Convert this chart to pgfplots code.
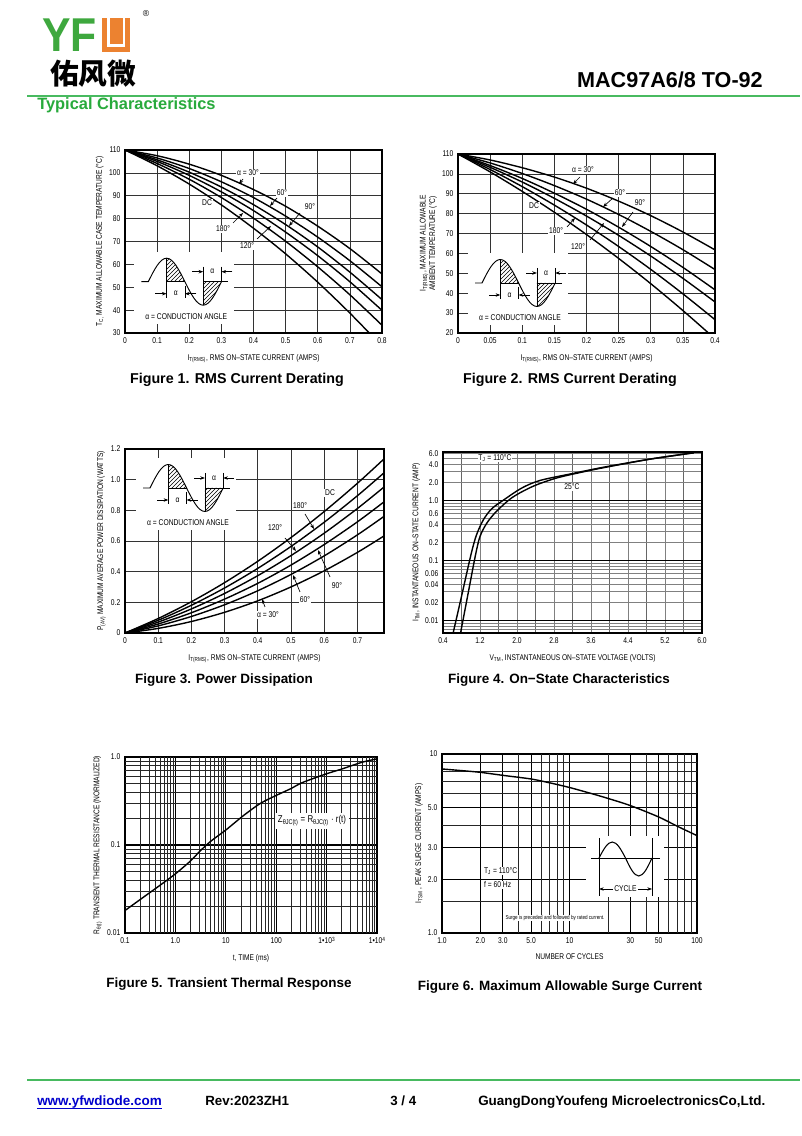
\documentclass[border=0pt]{standalone}
\usepackage{pgfplots}
\pgfplotsset{compat=1.18}
\usepackage{fontspec}
\setmainfont{Liberation Sans}
\newfontfamily\cond[FakeStretch=0.8]{Liberation Sans}
\newfontfamily\logof[FakeStretch=0.9]{Liberation Sans}
\newfontfamily\cjk{Noto Sans CJK SC}
\usetikzlibrary{patterns,arrows.meta}
\definecolor{yfgreen}{RGB}{62,168,62}
\definecolor{yforange}{RGB}{236,130,48}
\definecolor{linegreen}{RGB}{72,186,96}
\definecolor{capgreen}{RGB}{40,170,60}
\newcommand{\tk}{\cond\fontsize{6.3}{7}\selectfont}
\newcommand{\lb}{\cond\fontsize{6.2}{7.2}\selectfont}
\newcommand{\sups}[1]{\raisebox{0.45ex}{\fontsize{4.5}{5}\selectfont #1}}
\pgfplotsset{
  ds/.style={scale only axis, anchor=south west,
    axis line style={line width=1pt},
    tick label style={font=\tk},
    label style={font=\lb},
    /pgf/number format/assume math mode=true,
    major tick length=0pt, minor tick length=0pt,
    grid=major, major grid style={black!80, line width=0.55pt},
    xlabel style={yshift=-1pt}, ylabel style={yshift=-3pt},
  },
  cv/.style={black, line width=1.05pt, smooth, no markers},
}
\tikzset{lab/.style={font=\tk, fill=white, inner sep=0.6pt},
  ar/.style={-{Stealth[length=3.5pt,width=2.6pt]}, line width=0.5pt},
  px/.style={y=-0.75pt, yshift=852pt}}
\newcommand{\condinset}[2]{%
\begin{scope}[shift={(#1,#2)}]
 \fill[white] (-14,-30) rectangle (86,42);
 \fill[pattern=north east lines] (18.3,0) -- (18.3,-23.5) cos (36.6,0) -- cycle;
 \fill[pattern=north east lines] (54.9,0) -- (54.9,23.5) cos (73.2,0) -- cycle;
 \draw[line width=0.7pt] (-7,0) -- (0,0) sin (18.3,-23.5) cos (36.6,0) sin (54.9,23.5) cos (73.2,0);
 \draw[line width=0.5pt] (18.3,-23.5) -- (18.3,16) (18.3,0) -- (36.6,0);
 \draw[line width=0.5pt] (54.9,-15) -- (54.9,23.5) (54.9,0) -- (80,0) (73.2,-15) -- (73.2,0);
 \draw[ar] (44,-10) -- (54.9,-10); \draw[ar] (84,-10) -- (73.2,-10);
 \node[font=\tk] at (64,-10) {α};
 \draw[ar] (7,12) -- (18.3,12); \draw[ar] (48,12) -- (36.6,12);
 \draw[line width=0.5pt] (36.6,4) -- (36.6,16);
 \node[font=\tk] at (27.5,12) {α};
 \node[font=\tk] at (38,35) {α = CONDUCTION ANGLE};
\end{scope}}
\begin{document}
\begin{tikzpicture}[x=0.75pt,y=0.75pt]
\begin{scope}[px]
\fill[white] (0,0) rectangle (800,1136);
% ---------------- header
\node[anchor=base west, inner sep=0, text=yfgreen, font=\logof\bfseries\fontsize{35.6}{36}\selectfont] at (42,52) {YF};
\fill[yforange] (102,18) rectangle (130,52);
\fill[white] (107,18) rectangle (109.5,47);
\fill[white] (122.5,18) rectangle (125,47);
\fill[white] (107,44.5) rectangle (125,47);
\node[font=\fontsize{6.5}{7}\selectfont, inner sep=0] at (146,14) {®};
\node[anchor=base west, inner sep=0, font=\cjk\bfseries\fontsize{21.5}{22}\selectfont] at (50,85) {佑风微};
\node[anchor=base east, inner sep=0, font=\bfseries\fontsize{16.2}{17}\selectfont] at (763,88) {MAC97A6/8 TO-92};
\draw[linegreen, line width=1.5pt] (27,96) -- (800,96);
\node[anchor=base west, inner sep=0, text=capgreen, font=\bfseries\fontsize{12.3}{13}\selectfont] at (37,110) {Typical Characteristics};
% ---------------- footer
\draw[linegreen, line width=2.2pt] (27,1080) -- (800,1080);
\node[anchor=base west, inner sep=0, text=blue!80!black, font=\bfseries\fontsize{10.1}{11}\selectfont] at (37,1105) {www.yfwdiode.com};
\draw[blue!80!black, line width=0.6pt] (37,1108) -- (162,1108);
\node[anchor=base west, inner sep=0, font=\bfseries\fontsize{10}{11}\selectfont] at (205,1105) {Rev:2023ZH1};
\node[anchor=base west, inner sep=0, font=\bfseries\fontsize{10}{11}\selectfont] at (390,1105) {3 / 4};
\node[anchor=base west, inner sep=0, font=\bfseries\fontsize{10.1}{11}\selectfont] at (478,1105) {GuangDongYoufeng MicroelectronicsCo,Ltd.};
% ---------------- captions
\begin{scope}[every node/.style={anchor=base, inner sep=0, font=\bfseries\fontsize{10.7}{12}\selectfont}]
\node at (237,384) {Figure 1. RMS Current Derating};
\node at (570,384) {Figure 2. RMS Current Derating};
\end{scope}
\begin{scope}[every node/.style={anchor=base, inner sep=0, font=\bfseries\fontsize{10.1}{12}\selectfont}]
\node at (224,684) {Figure 3. Power Dissipation};
\node at (559,684) {Figure 4. On−State Characteristics};
\node at (229,988) {Figure 5. Transient Thermal Response};
\node at (560,991) {Figure 6. Maximum Allowable Surge Current};
\end{scope}
\end{scope}
% ================= Figure 1
\begin{axis}[ds, at={(93.75pt,602.25pt)}, width=192.75pt, height=137.25pt,
  xmin=0, xmax=0.8, ymin=30, ymax=110,
  xtick={0,0.1,0.2,0.3,0.4,0.5,0.6,0.7,0.8},
  xticklabels={0,0.1,0.2,0.3,0.4,0.5,0.6,0.7,0.8},
  ytick={30,40,50,60,70,80,90,100,110},
  yticklabels={30,40,50,60,70,80,90,100,110},
  xlabel={I\textsubscript{T(RMS)}, RMS ON–STATE CURRENT (AMPS)},
  ylabel={T\textsubscript{C,} MAXIMUM ALLOWABLE CASE TEMPERATURE (°C)}]
\addplot[cv] coordinates {(0,110)(0.1,107.5)(0.2,103.8)(0.3,98.9)(0.4,92.7)(0.5,85.4)(0.6,76.7)(0.7,66.9)(0.8,55.8)};
\addplot[cv] coordinates {(0,110)(0.1,106.5)(0.2,101.9)(0.3,96.1)(0.4,89.2)(0.5,81.1)(0.6,71.9)(0.7,61.6)(0.8,50.2)};
\addplot[cv] coordinates {(0,110)(0.1,105.7)(0.2,100.3)(0.3,93.8)(0.4,86.1)(0.5,77.4)(0.6,67.6)(0.7,56.6)(0.8,44.6)};
\addplot[cv] coordinates {(0,110)(0.1,105.0)(0.2,98.9)(0.3,91.7)(0.4,83.5)(0.5,74.1)(0.6,63.8)(0.7,52.4)(0.8,39.9)};
\addplot[cv] coordinates {(0,110)(0.1,104.1)(0.2,97.2)(0.3,89.2)(0.4,80.2)(0.5,70.1)(0.6,58.9)(0.7,46.7)(0.8,33.4)};
\addplot[cv] coordinates {(0,110)(0.1,103.1)(0.2,95.1)(0.3,86.0)(0.4,75.8)(0.5,64.6)(0.6,52.2)(0.7,38.7)(0.8,24.2)};
\end{axis}
\begin{scope}[px]
\condinset{148.3}{281.7}
\node[lab] at (248,173) {α = 30°}; \draw[ar] (243,179) -- (239,184);
\node[lab] at (282,193) {60°}; \draw[ar] (277,198) -- (270,206);
\node[lab] at (310,207) {90°}; \draw[ar] (300,213) -- (289,226);
\node[lab] at (207,203) {DC};
\node[lab] at (223,229) {180°}; \draw[ar] (233,223) -- (243,213);
\node[lab] at (247,246) {120°}; \draw[ar] (257,239) -- (271,226);
\end{scope}
% ================= Figure 2
\begin{axis}[ds, at={(343.5pt,602.25pt)}, width=192.75pt, height=134.25pt,
  xmin=0, xmax=0.4, ymin=20, ymax=110,
  xtick={0,0.05,0.1,0.15,0.2,0.25,0.3,0.35,0.4},
  xticklabels={0,0.05,0.1,0.15,0.2,0.25,0.3,0.35,0.4},
  ytick={20,30,40,50,60,70,80,90,100,110},
  yticklabels={20,30,40,50,60,70,80,90,100,110},
  xlabel={I\textsubscript{T(RMS)}, RMS ON–STATE CURRENT (AMPS)},
  ylabel={I\textsubscript{T(RMS)}, MAXIMUM ALLOWABLE\\AMBIENT TEMPERATURE (°C)},
  ylabel style={align=center}]
\addplot[cv] coordinates {(0,110)(0.05,107.0)(0.1,103.1)(0.15,98.4)(0.2,92.8)(0.25,86.3)(0.3,79.0)(0.35,70.8)(0.4,61.8)};
\addplot[cv] coordinates {(0,110)(0.05,105.5)(0.1,100.2)(0.15,94.1)(0.2,87.3)(0.25,79.6)(0.3,71.1)(0.35,61.9)(0.4,51.9)};
\addplot[cv] coordinates {(0,110)(0.05,104.2)(0.1,97.7)(0.15,90.3)(0.2,82.2)(0.25,73.2)(0.3,63.5)(0.35,53.0)(0.4,41.7)};
\addplot[cv] coordinates {(0,110)(0.05,103.3)(0.1,95.9)(0.15,87.7)(0.2,78.8)(0.25,69.1)(0.3,58.7)(0.35,47.5)(0.4,35.6)};
\addplot[cv] coordinates {(0,110)(0.05,102.2)(0.1,93.6)(0.15,84.3)(0.2,74.3)(0.25,63.5)(0.3,52.0)(0.35,39.7)(0.4,26.7)};
\addplot[cv] coordinates {(0,110)(0.05,101.0)(0.1,91.2)(0.15,80.7)(0.2,69.5)(0.25,57.5)(0.3,44.8)(0.35,31.3)(0.4,17.1)};
\end{axis}
\begin{scope}[px]
\condinset{482}{283}
\node[lab] at (583,170) {α = 30°}; \draw[ar] (580,177) -- (573,184);
\node[lab] at (620,193) {60°}; \draw[ar] (613,198) -- (603,207);
\node[lab] at (640,203) {90°}; \draw[ar] (633,212) -- (622,227);
\node[lab] at (534,206) {DC};
\node[lab] at (556,231) {180°}; \draw[ar] (567,227) -- (575,218);
\node[lab] at (578,247) {120°}; \draw[ar] (590,240) -- (604,223);
\end{scope}
% ================= Figure 3
\begin{axis}[ds, at={(93.75pt,377.25pt)}, width=194.25pt, height=138pt,
  xmin=0, xmax=0.78, ymin=0, ymax=1.2,
  xtick={0,0.1,0.2,0.3,0.4,0.5,0.6,0.7},
  xticklabels={0,0.1,0.2,0.3,0.4,0.5,0.6,0.7},
  ytick={0,0.2,0.4,0.6,0.8,1.0,1.2},
  yticklabels={0,0.2,0.4,0.6,0.8,1.0,1.2},
  xlabel={I\textsubscript{T(RMS)}, RMS ON–STATE CURRENT (AMPS)},
  ylabel={P\textsubscript{(AV)} MAXIMUM AVERAGE POWER DISSIPATION (WATTS)}]
\addplot[cv] coordinates {(0,0)(0.1,0.0945)(0.2,0.204)(0.3,0.3285)(0.4,0.468)(0.5,0.6225)(0.6,0.792)(0.7,0.9765)(0.783,1.141)};
\addplot[cv] coordinates {(0,0)(0.1,0.0829)(0.2,0.1808)(0.3,0.2937)(0.4,0.4216)(0.5,0.5645)(0.6,0.7224)(0.7,0.8953)(0.783,1.050)};
\addplot[cv] coordinates {(0,0)(0.1,0.071)(0.2,0.157)(0.3,0.258)(0.4,0.374)(0.5,0.505)(0.6,0.651)(0.7,0.812)(0.783,0.957)};
\addplot[cv] coordinates {(0,0)(0.1,0.0586)(0.2,0.132)(0.3,0.221)(0.4,0.324)(0.5,0.443)(0.6,0.577)(0.7,0.725)(0.783,0.860)};
\addplot[cv] coordinates {(0,0)(0.1,0.0464)(0.2,0.1078)(0.3,0.1842)(0.4,0.2756)(0.5,0.382)(0.6,0.503)(0.7,0.640)(0.783,0.765)};
\addplot[cv] coordinates {(0,0)(0.1,0.030)(0.2,0.075)(0.3,0.135)(0.4,0.210)(0.5,0.3005)(0.6,0.4056)(0.7,0.5257)(0.783,0.637)};
\end{axis}
\begin{scope}[px]
\condinset{150}{488}
\node[lab] at (330,493) {DC};
\node[lab] at (300,506) {180°}; \draw[ar] (305,514) -- (314,529);
\node[lab] at (275,528) {120°}; \draw[ar] (285,538) -- (296,551);
\node[lab] at (337,586) {90°}; \draw[ar] (330,577) -- (318,550);
\node[lab] at (305,600) {60°}; \draw[ar] (300,592) -- (293,575);
\node[lab] at (268,615) {α = 30°}; \draw[ar] (265,607) -- (262,599);
\end{scope}
% ================= Figure 4
\begin{axis}[ds, at={(332.25pt,377.25pt)}, width=194.25pt, height=135.75pt,
  xmin=0.4, xmax=6.0, ymode=log, ymin=0.00615, ymax=6.4,
  xtick={0.4,1.2,2.0,2.8,3.6,4.4,5.2,6.0},
  xticklabels={0.4,1.2,2.0,2.8,3.6,4.4,5.2,6.0},
  minor xtick={0.8,1.6,2.4,3.2,4.0,4.8,5.6},
  ytick={0.007,0.008,0.009,0.01,0.02,0.03,0.04,0.05,0.06,0.07,0.08,0.09,0.1,0.2,0.3,0.4,0.5,0.6,0.7,0.8,0.9,1,2,3,4,5,6},
  yticklabels={,,,0.01,0.02,,0.04,,0.06,,,,0.1,0.2,,0.4,,0.6,,,,1.0,2.0,,4.0,,6.0},
  grid=both, major grid style={black!50, line width=0.45pt},
  minor grid style={black!60, line width=0.5pt},
  extra y ticks={0.01,0.1,1}, extra y tick labels={},
  extra y tick style={grid=major, major grid style={black, line width=0.8pt}},
  xlabel={V\textsubscript{TM}, INSTANTANEOUS ON–STATE VOLTAGE (VOLTS)},
  ylabel={I\textsubscript{TM}, INSTANTANEOUS ON–STATE CURRENT (AMP)}]
\addplot[cv] coordinates {(0.62,0.0062)(0.8,0.025)(1.0,0.12)(1.12,0.26)(1.27,0.47)(1.45,0.72)(1.7,1.0)(2.1,1.6)(2.5,2.15)(3.2,2.8)(3.9,3.6)(4.9,4.9)(5.82,6.2)};
\addplot[cv] coordinates {(0.78,0.0062)(0.95,0.03)(1.1,0.12)(1.2,0.25)(1.35,0.42)(1.56,0.66)(1.9,1.12)(2.35,1.72)(2.85,2.35)(3.4,2.95)(3.95,3.6)(4.9,4.9)(5.82,6.2)};
\end{axis}
\begin{scope}[px]
\node[lab] at (495,458) {T\textsubscript{J} = 110°C};
\node[lab] at (572,487) {25°C};
\end{scope}
% ================= Figure 5
\begin{axis}[ds, at={(93.75pt,152.25pt)}, width=189pt, height=132pt,
  xmode=log, ymode=log, xmin=0.1, xmax=10000, ymin=0.01, ymax=1,
  xtick={0.1,1,10,100,1000,10000},
  xticklabels={0.1,1.0,10,100,1•10\sups{3},1•10\sups{4}},
  ytick={0.01,0.1,1}, yticklabels={0.01,0.1,1.0},
  major grid style={black, line width=0.9pt},
  extra x ticks={0.2,0.3,0.4,0.5,0.6,0.7,0.8,0.9,2,3,4,5,6,7,8,9,20,30,40,50,60,70,80,90,200,300,400,500,600,700,800,900,2000,3000,4000,5000,6000,7000,8000,9000},
  extra x tick labels={},
  extra x tick style={grid=major, major grid style={black!85, line width=0.45pt}},
  extra y ticks={0.02,0.03,0.04,0.05,0.06,0.07,0.08,0.09,0.2,0.3,0.4,0.5,0.6,0.7,0.8,0.9},
  extra y tick labels={},
  extra y tick style={grid=major, major grid style={black!85, line width=0.45pt}},
  xlabel={t, TIME (ms)},
  ylabel={R\textsubscript{θ(t)} TRANSIENT THERMAL RESISTANCE (NORMALIZED)}]
\addplot[cv] coordinates {(0.1,0.018)(0.2,0.024)(0.5,0.035)(1,0.047)(2,0.066)(3,0.084)(5,0.11)(10,0.148)(20,0.205)(30,0.245)(50,0.30)(100,0.366)(200,0.44)(300,0.50)(500,0.56)(1000,0.645)(2000,0.73)(3000,0.79)(5000,0.87)(10000,0.955)};
\end{axis}
\begin{scope}[px]
\node[font=\cond\fontsize{7.4}{8}\selectfont, fill=white, inner sep=2pt] at (312,821) {Z\textsubscript{θJC(t)} = R\textsubscript{θJC(t)} · r(t)};
\end{scope}
% ================= Figure 6
\begin{axis}[ds, at={(331.5pt,152.25pt)}, width=191.25pt, height=134.25pt,
  xmode=log, ymode=log, xmin=1, xmax=100, ymin=1, ymax=10,
  xtick={1,2,3,5,10,30,50,100},
  xticklabels={1.0,2.0,3.0,5.0,10,30,50,100},
  ytick={1,2,3,5,10}, yticklabels={1.0,2.0,3.0,5.0,10},
  major grid style={black, line width=0.6pt},
  extra x ticks={4,6,7,8,9,20,40,60,70,80,90}, extra x tick labels={},
  extra x tick style={grid=major, major grid style={black!85, line width=0.45pt}},
  extra y ticks={1.5,4,6,7,8,9}, extra y tick labels={},
  extra y tick style={grid=major, major grid style={black!85, line width=0.45pt}},
  xlabel={NUMBER OF CYCLES},
  ylabel={I\textsubscript{TSM} , PEAK SURGE CURRENT (AMPS)}]
\addplot[cv] coordinates {(1,8.25)(1.5,8.05)(2,7.9)(3,7.6)(5,7.25)(7,6.9)(10,6.5)(15,6.0)(20,5.65)(30,5.15)(50,4.45)(70,3.95)(100,3.5)};
\end{axis}
\begin{scope}[px]
\fill[white] (586,836) rectangle (664,897);
\draw[line width=0.5pt] (599,838) -- (599,896) (652,838) -- (652,896) (591,858) -- (660,858);
\draw[line width=0.8pt] (599,858) sin (612.25,842) cos (625.5,858) sin (638.75,876) cos (652,858);
\node[lab] (cyc) at (625.5,889) {CYCLE};
\draw[ar] (cyc.west) -- (599,889); \draw[ar] (cyc.east) -- (652,889);
\node[lab, anchor=west] at (483,871) {T\textsubscript{J} = 110°C};
\node[lab, anchor=west] at (483,885) {f = 60 Hz};
\node[font=\cond\fontsize{4.3}{5}\selectfont, fill=white, inner sep=0.5pt] at (555,918) {Surge is preceded and followed by rated current.};
\end{scope}
\end{tikzpicture}
\end{document}
